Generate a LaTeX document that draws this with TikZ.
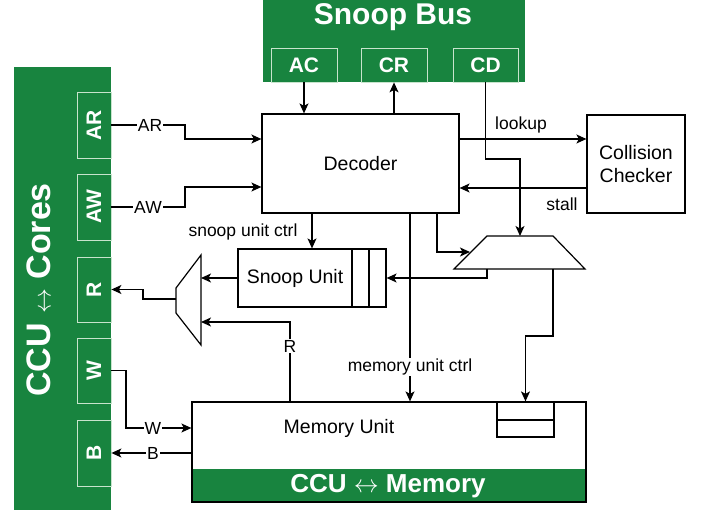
\documentclass[tikz,border=0pt]{standalone}
\usepackage{fontspec}
\setmainfont{Liberation Sans}
\usetikzlibrary{arrows.meta}
\definecolor{ccugreen}{RGB}{24,132,63}
\definecolor{portline}{RGB}{200,228,205}
\tikzset{
  wire/.style={line width=1.2pt},
  arr/.style={wire,-{Stealth[length=10pt,width=9pt,inset=2.5pt]}},
  box/.style={draw,line width=1.2pt,fill=white,inner sep=0pt},
  panel/.style={fill=ccugreen,draw=none,inner sep=0pt},
  port/.style={draw=portline,line width=0.8pt,fill=ccugreen,text=white,inner sep=0pt,
    font=\bfseries\fontsize{21}{21}\selectfont},
  porttext/.style={text=white,inner sep=0pt,rotate=90,font=\bfseries\fontsize{21}{21}\selectfont},
  title/.style={text=white,inner sep=0pt,font=\bfseries\fontsize{30}{30}\selectfont},
  big/.style={font=\fontsize{19.5}{23}\selectfont,inner sep=0pt,align=center},
  lbl/.style={font=\fontsize{17.5}{19}\selectfont,inner sep=1pt},
  lblw/.style={lbl,fill=white},
}
\begin{document}
\begin{tikzpicture}[x=1pt,y=-1pt]
\useasboundingbox (0,0) rectangle (702,510);
% left panel
\node[panel,minimum width=97pt,minimum height=445pt] (cores) at (62.5,289.5) {};
\node[title,rotate=90,font=\bfseries\fontsize{34}{34}\selectfont] (corest) at (39,290) {CCU $\leftrightarrow$ Cores};
\node[port,minimum width=34pt,minimum height=66pt] (ar) at (94,125) {};
\node[porttext] (art) at (ar) {AR};
\node[port,minimum width=34pt,minimum height=66pt] (aw) at (94,207) {};
\node[porttext] (awt) at (aw) {AW};
\node[port,minimum width=34pt,minimum height=65pt] (rp) at (94,289.5) {};
\node[porttext] (rpt) at (rp) {R};
\node[port,minimum width=34pt,minimum height=65pt] (wp) at (94,370.5) {};
\node[porttext] (wpt) at (wp) {W};
\node[port,minimum width=34pt,minimum height=66pt] (bp) at (94,453) {};
\node[porttext] (bpt) at (bp) {B};
% snoop bus
\node[panel,minimum width=262pt,minimum height=84pt] (bus) at (394,40) {};
\node[title] (bust) at (393,17) {Snoop Bus};
\node[port,minimum width=66pt,minimum height=34pt] (ac) at (304,65) {AC};
\node[port,minimum width=66pt,minimum height=34pt] (cr) at (394,65) {CR};
\node[port,minimum width=65pt,minimum height=34pt] (cd) at (485.5,65) {CD};
% decoder, collision checker
\node[box,big,minimum width=197pt,minimum height=99pt] (dec) at (360.5,163.5) {Decoder};
\node[box,big,minimum width=98pt,minimum height=98pt] (cc) at (636,164) {Collision\\Checker};
% snoop unit
\node[box,minimum width=148pt,minimum height=58pt] (su) at (312,278) {};
\draw[wire] (352,249) -- (352,307) (369,249) -- (369,307);
\node[big] (sut) at (295,278) {Snoop Unit};
% memory unit
\node[box,minimum width=394pt,minimum height=100pt] (mem) at (389,452) {};
\fill[ccugreen] (192.6,469) rectangle (585.4,501.4);
\draw[line width=1.2pt] (192,402) rectangle (586,502);
\node[big] (memt) at (339,428) {Memory Unit};
\node[title,font=\bfseries\fontsize{26}{26}\selectfont] (memb) at (388,486) {CCU $\leftrightarrow$ Memory};
\node[box,minimum width=57pt,minimum height=35pt] (buf) at (525.5,419.5) {};
\draw[wire] (497,420) -- (554,420);
% muxes
\draw[line width=1.2pt,fill=white] (487,236) coordinate (mtl) -- (553,236) coordinate (mtr)
  -- (585,269) coordinate (mbr) -- (454,269) coordinate (mbl) -- cycle;
\coordinate (mtop) at (520,236);
\coordinate (min) at (470,252);
\coordinate (mo1) at (487,269);
\coordinate (mo2) at (553,269);
\draw[line width=1.2pt,fill=white] (201,255) coordinate (lt) -- (201,345) coordinate (lb)
  -- (176,313) -- (176,288) -- cycle;
\coordinate (lin1) at (201,278);
\coordinate (lin2) at (201,322);
\coordinate (lout) at (176,299);
% connectors
\draw[arr] (ac.south) -- (ac.south |- dec.north);
\draw[arr] (cr.south |- dec.north) -- (cr.south);
\draw[arr] (cd.south) -- (cd.south |- 0,159) -| (mtop);
\draw[arr] (dec.east |- 0,139) -- (cc.west |- 0,139);
\node[lbl] (lk) at (521,125) {lookup};
\draw[arr] (cc.west |- 0,188) -- (dec.east |- 0,188);
\node[lbl] (st) at (562,204) {stall};
\draw[arr] (ar.east) -- (185,125) |- (dec.west |- 0,139);
\node[lblw] (arl) at (150,125) {AR};
\draw[arr] (aw.east) -- (185,207) |- (dec.west |- 0,187);
\node[lblw] (awl) at (148,207) {AW};
\draw[arr] (dec.south -| 437,0) |- (min);
\draw[arr] (mo1) |- (su.east);
\draw[arr] (mo2) -- (553,336) -| (buf.north);
\draw[arr] (dec.south -| su.north) -- (su.north);
\node[lbl] (suc) at (243,232) {snoop unit ctrl};
\draw[arr] (dec.south -| 410,0) -- (mem.north -| 410,0);
\node[lblw] (muc) at (410,367) {memory unit ctrl};
\draw[arr] (su.west) -- (lin1);
\draw[arr] (mem.north -| 290,0) -- (290,322) -- (lin2);
\node[lblw] (rl) at (290,346) {R};
\draw[arr] (lout) -- (143,299) |- (rp.east);
\draw[arr] (wp.east) -- (126,370.5) |- (mem.west |- 0,428);
\node[lblw] (wl) at (153,428) {W};
\draw[arr] (mem.west |- 0,453) -- (bp.east);
\node[lblw] (bl) at (153,453) {B};
\end{tikzpicture}
\end{document}
